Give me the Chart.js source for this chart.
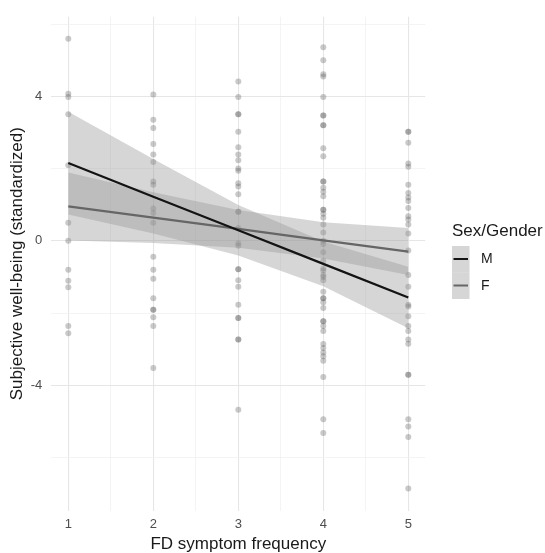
<!DOCTYPE html>
<html>
<head>
<meta charset="utf-8">
<script src="https://cdn.jsdelivr.net/npm/chart.js@4.4.1/dist/chart.umd.min.js"></script>
<style>
  html, body { margin: 0; padding: 0; background: #fff; }
  canvas { display: block; }
</style>
</head>
<body>
<canvas id="wellbeingChart" width="545" height="553"></canvas>
<script>
/* ---------------- data ---------------- */
const freqLevels = [1, 2, 3, 4, 5];
const xTicks = [1, 1.5, 2, 2.5, 3, 3.5, 4, 4.5, 5];
const yTicks = [-6, -4, -2, 0, 2, 4, 6];

// individual observations, one array per symptom frequency
const pointsAt1 = [5.59, 4.07, 3.98, 3.50, 2.09, 0.50, 0.0, -0.80, -1.11, -1.29, -2.36, -2.56];
const pointsAt2 = [4.05, 3.35, 3.12, 2.68, 2.39, 2.18, 1.64, 1.55, 0.89, 0.77, 0.50, -0.44, -0.80,
  -1.05, -1.59, -1.91, -1.91, -2.12, -2.36, -3.52];
const pointsAt3 = [4.41, 3.98, 3.50, 3.50, 3.02, 2.59, 2.39, 2.23, 2.00, 1.94, 1.59, 1.50, 1.29,
  0.80, 0.80, 0.35, -0.07, -0.14, -0.79, -0.79, -1.09, -1.27, -1.77, -2.14, -2.14, -2.73, -2.73, -4.68];
const pointsAt4 = [5.36, 5.00, 4.61, 4.55, 3.98, 3.47, 3.47, 3.20, 3.20, 2.56, 2.34, 1.64, 1.64,
  1.47, 1.36, 1.23, 0.86, 0.86, 0.75, 0.64, 0.45, 0.23, 0.0, -0.09, -0.32, -0.55, -0.77, -0.82,
  -0.95, -1.0, -1.09, -1.41, -1.59, -1.59, -1.70, -1.86, -2.23, -2.23, -2.36, -2.50, -2.86, -2.97,
  -3.09, -3.20, -3.32, -3.77, -4.94, -5.32];
const pointsAt5 = [3.02, 3.02, 2.71, 2.14, 2.05, 1.55, 1.32, 1.20, 1.10, 0.91, 0.68, 0.59, 0.45,
  0.20, -0.27, -0.95, -1.27, -1.77, -1.82, -2.09, -2.36, -2.50, -2.73, -2.85, -3.71, -3.71, -4.94,
  -5.14, -5.43, -6.86];

// fitted lines + confidence bands
const fitM = [2.15, 1.22, 0.29, -0.64, -1.57];
const upperM = [3.57, 2.26, 0.99, -0.02, -0.72];
const lowerM = [0.73, 0.20, -0.41, -1.26, -2.42];
const fitF = [0.95, 0.64, 0.33, 0.01, -0.30];
const upperF = [1.89, 1.34, 0.85, 0.51, 0.35];
const lowerF = [0.01, -0.06, -0.19, -0.49, -0.95];

const groupLabels = ["M", "F"];

/* ---------------- style ---------------- */
const FONT = "'Liberation Sans', Arial, sans-serif";
const ribbonFill = "rgba(153,153,153,0.4)";
const lineColors = ["#141414", "#666666"];

const toXY = (ys) => ys.map((y, i) => ({ x: freqLevels[i], y }));
const allPoints = [pointsAt1, pointsAt2, pointsAt3, pointsAt4, pointsAt5]
  .flatMap((arr, i) => arr.map((y) => ({ x: freqLevels[i], y })));

function ribbon(data, fill, order) {
  return {
    type: "line", data: toXY(data), fill, backgroundColor: ribbonFill,
    borderWidth: 0, pointRadius: 0, tension: 0, order,
  };
}

// legend drawn by hand: ggplot style key boxes with ribbon behind line
const ggLegend = {
  id: "ggLegend",
  afterDraw(chart) {
    const ctx = chart.ctx;
    ctx.save();
    ctx.fillStyle = "#1a1a1a";
    ctx.font = `17px ${FONT}`;
    ctx.textBaseline = "middle";
    ctx.fillText("Sex/Gender", 452, 231);
    groupLabels.forEach((lab, i) => {
      const top = 246 + i * 26.5;
      ctx.fillStyle = ribbonFill;
      ctx.fillRect(452, top, 17.5, 26.5);
      ctx.strokeStyle = lineColors[i];
      ctx.lineWidth = 2;
      ctx.beginPath();
      ctx.moveTo(453.5, top + 13);
      ctx.lineTo(468, top + 13);
      ctx.stroke();
      ctx.fillStyle = "#1a1a1a";
      ctx.font = `14px ${FONT}`;
      ctx.fillText(lab, 481, top + 13.5);
    });
    ctx.restore();
  },
};

new Chart(document.getElementById("wellbeingChart"), {
  type: "scatter",
  data: {
    datasets: [
      {
        type: "scatter", data: allPoints, pointRadius: 3, pointHoverRadius: 3,
        backgroundColor: "rgba(90,90,90,0.33)", borderWidth: 0, order: 10,
      },
      ribbon(upperM, "+1", 5),
      ribbon(lowerM, false, 5),
      ribbon(upperF, "+1", 4),
      ribbon(lowerF, false, 4),
      {
        type: "line", label: "M", data: toXY(fitM), borderColor: lineColors[0],
        borderWidth: 2.2, pointRadius: 0, fill: false, tension: 0, order: 1,
      },
      {
        type: "line", label: "F", data: toXY(fitF), borderColor: lineColors[1],
        borderWidth: 2.2, pointRadius: 0, fill: false, tension: 0, order: 2,
      },
    ],
  },
  options: {
    responsive: false,
    animation: false,
    layout: { padding: { top: 9.4, right: 119.7, bottom: 0, left: 0 } },
    plugins: { legend: { display: false }, tooltip: { enabled: false } },
    scales: {
      x: {
        type: "linear", min: 0.8, max: 5.2,
        afterBuildTicks: (axis) => { axis.ticks = xTicks.map((v) => ({ value: v })); },
        afterFit: (axis) => { axis.height = 42.4; },
        ticks: {
          callback: (v) => (Number.isInteger(v) ? v : ""),
          color: "#4d4d4d", font: { family: FONT, size: 13 }, padding: 6,
          maxRotation: 0, autoSkip: false,
        },
        grid: {
          color: (c) => (Number.isInteger(c.tick.value) ? "#e6e6e6" : "#efefef"),
          lineWidth: (c) => (Number.isInteger(c.tick.value) ? 1.1 : 0.7),
          drawTicks: false,
        },
        border: { display: false },
        title: {
          display: true, text: "FD symptom frequency", color: "#1a1a1a",
          font: { family: FONT, size: 17, lineHeight: 1 }, padding: { top: 0, bottom: 0 },
        },
      },
      y: {
        type: "linear", min: -7.47, max: 6.2,
        afterBuildTicks: (axis) => { axis.ticks = yTicks.map((v) => ({ value: v })); },
        afterFit: (axis) => { axis.width = 51.3; },
        ticks: {
          callback: (v) => (v % 4 === 0 ? v : ""),
          color: "#4d4d4d", font: { family: FONT, size: 13 }, padding: 9,
        },
        grid: {
          color: (c) => (c.tick.value % 4 === 0 ? "#e6e6e6" : "#efefef"),
          lineWidth: (c) => (c.tick.value % 4 === 0 ? 1.1 : 0.7),
          drawTicks: false,
        },
        border: { display: false },
        title: {
          display: true, text: "Subjective well-being (standardized)", color: "#1a1a1a",
          font: { family: FONT, size: 17, lineHeight: 1 }, padding: { top: 9, bottom: 0 },
        },
      },
    },
  },
  plugins: [ggLegend],
});
</script>
</body>
</html>
